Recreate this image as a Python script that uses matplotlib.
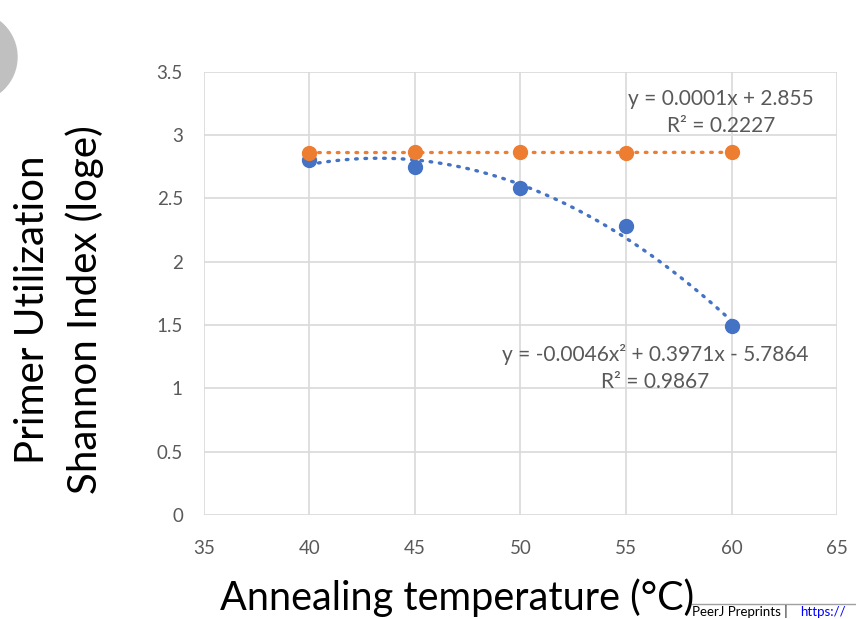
import numpy as np
import matplotlib.pyplot as plt
from matplotlib.patches import Circle

plt.rcParams['font.family'] = ['Lato', 'DejaVu Sans']

# data
temps = [40, 45, 50, 55, 60]
shannon = [2.80, 2.75, 2.58, 2.28, 1.49]
utilization = [2.86, 2.865, 2.865, 2.86, 2.865]
blue_eq = 'y = -0.0046x² + 0.3971x - 5.7864\nR² = 0.9867'
orange_eq = 'y = 0.0001x + 2.855\nR² = 0.2227'

blue = '#4472c4'
orange = '#ed7d31'
grey = '#595959'

fig = plt.figure(figsize=(8.56, 6.19), dpi=100)
ax = fig.add_axes([0.238, 0.168, 0.740, 0.716])

# trendlines
xs = np.linspace(40, 60, 200)
p2 = np.polyfit(temps, shannon, 2)
p1 = np.polyfit(temps, utilization, 1)
ax.plot(xs, np.polyval(p2, xs), color=blue, lw=2.4, ls=(0, (0.5, 2.3)),
        dash_capstyle='round', zorder=2)
ax.plot(xs, np.polyval(p1, xs), color=orange, lw=2.4, ls=(0, (0.5, 2.3)),
        dash_capstyle='round', zorder=2)

ax.plot(temps, shannon, 'o', color=blue, markersize=10, zorder=3)
ax.plot(temps, utilization, 'o', color=orange, markersize=10, zorder=4)

ax.text(56.4, 0.97, blue_eq, ha='center', va='bottom', fontsize=15,
        color=grey, linespacing=1.45)
ax.text(59.5, 2.99, orange_eq, ha='center', va='bottom', fontsize=15,
        color=grey, linespacing=1.45)

ax.set_xlim(35, 65)
ax.set_ylim(0, 3.5)
ax.set_xticks(range(35, 66, 5))
ax.set_yticks(np.arange(0, 3.51, 0.5))
ax.set_yticklabels(['0', '0.5', '1', '1.5', '2', '2.5', '3', '3.5'])
ax.grid(True, color='#d9d9d9', lw=1.2)
ax.set_axisbelow(True)
for s in ax.spines.values():
    s.set_visible(False)
ax.tick_params(length=0, labelsize=13.5, labelcolor=grey)
ax.tick_params(axis='x', pad=18)
ax.tick_params(axis='y', pad=15)

fig.text(0.534, 0.035, 'Annealing temperature (°C)', ha='center', va='center',
         fontsize=28.5)
fig.text(0.038, 0.50, 'Primer Utilization', rotation=90, ha='center',
         va='center', fontsize=29)
fig.text(0.099, 0.50, 'Shannon Index (loge)', rotation=90, ha='center',
         va='center', fontsize=29)

# decoration from the page
fig.patches.append(Circle((-28, 619 - 57), 45, transform=None,
                          color='#c0c0c0', zorder=0))
fig.add_artist(plt.Line2D([692, 856], [15, 15], transform=None,
                          color='#a0a0a0', lw=1))
fig.text(692 / 856, 1 / 619, 'PeerJ Preprints | ', fontsize=9.5, va='bottom')
fig.text(800 / 856, 1 / 619, 'https://', fontsize=9.5, va='bottom',
         color='blue')

fig.savefig('out.png', dpi=100)
